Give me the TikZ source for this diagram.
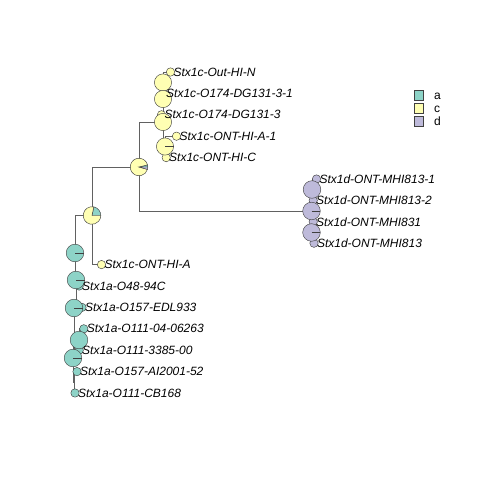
\documentclass[tikz,border=0pt]{standalone}
\usepackage{fontspec}
\setmainfont{Liberation Sans}
\definecolor{ca}{HTML}{8DD3C7}
\definecolor{cc}{HTML}{FFFFB3}
\definecolor{cd}{HTML}{BEBADA}
\newcommand{\pieone}[3]{\filldraw[fill=#2, pieborder] (#1) circle[radius=#3pt];}
\newcommand{\pieline}[2]{\draw[pieborder] (#1) -- ++(0:#2pt);}
\newcommand{\pieslice}[5]{\filldraw[fill=#2, pieborder] (#1) -- ++(#3:#5pt) arc[start angle=#3, end angle=#4, radius=#5pt] -- cycle;}
\begin{document}
\begin{tikzpicture}[x=1pt,y=-1pt,
  edge/.style={draw=black!62, line width=0.75pt},
  lab/.style={anchor=west, inner sep=0pt, font=\fontsize{12}{14}\selectfont\itshape},
  pieborder/.style={draw=black!75, line width=0.45pt},
  keybox/.style={draw=black!75, line width=0.5pt, minimum size=9.5pt, inner sep=0pt},
  keytext/.style={anchor=base west, inner sep=0pt, font=\fontsize{12}{14}\selectfont}
]
\useasboundingbox[fill=white] (0,0) rectangle (480,480);
% internal nodes
\coordinate (R)  at (75,253);
\coordinate (N1) at (92,215.5);
\coordinate (N2) at (139,167);
\coordinate (C0) at (163,122);
\coordinate (U2) at (163,99);
\coordinate (U1) at (163,82.5);
\coordinate (L)  at (165,146.5);
\coordinate (D0) at (311.5,211);
\coordinate (D1) at (312,189.5);
\coordinate (D3) at (311.5,232.5);
\coordinate (A1) at (76,280);
\coordinate (A2) at (74,308);
\coordinate (A3) at (79,340);
\coordinate (A4) at (73,358);
\coordinate (B)  at (74,382.3);
% tips
\coordinate (t1)  at (170.5,72);
\coordinate (t2)  at (163.2,93.4);
\coordinate (t3)  at (161.5,114.8);
\coordinate (t4)  at (176.5,136.2);
\coordinate (t5)  at (166.2,157.6);
\coordinate (t6)  at (316.5,179);
\coordinate (t7)  at (313.2,200.4);
\coordinate (t8)  at (313.2,221.8);
\coordinate (t9)  at (314,243.2);
\coordinate (t10) at (101.5,264.6);
\coordinate (t11) at (79.2,286);
\coordinate (t12) at (82,307.4);
\coordinate (t13) at (83.8,328.8);
\coordinate (t14) at (79.2,350.2);
\coordinate (t15) at (77,371.6);
\coordinate (t16) at (75,393);
% edges
\draw[edge] (R) |- (N1);
\draw[edge] (R) |- (A1);
\draw[edge] (N1) |- (N2);
\draw[edge] (N1) |- (t10);
\draw[edge] (N2) |- (C0);
\draw[edge] (N2) |- (D0);
\draw[edge] (C0) |- (U2);
\draw[edge] (C0) |- (L);
\draw[edge] (U2) |- (U1);
\draw[edge] (U2) |- (t3);
\draw[edge] (U1) |- (t1);
\draw[edge] (U1) |- (t2);
\draw[edge] (L) |- (t4);
\draw[edge] (L) |- (t5);
\draw[edge] (D0) |- (D1);
\draw[edge] (D0) |- (D3);
\draw[edge] (D1) |- (t6);
\draw[edge] (D1) |- (t7);
\draw[edge] (D3) |- (t8);
\draw[edge] (D3) |- (t9);
\draw[edge] (A1) |- (t11);
\draw[edge] (A1) |- (A2);
\draw[edge] (A2) |- (t12);
\draw[edge] (A2) |- (A4);
\draw[edge] (A4) |- (A3);
\draw[edge] (A3) |- (t13);
\draw[edge] (A3) |- (t14);
\draw[edge] (A4) |- (B);
\draw[edge] (B) |- (t15);
\draw[edge] (B) |- (t16);
% tip circles
\foreach \t in {t1,t2,t3,t4,t5,t10} {\pieone{\t}{cc}{4.2}}
\foreach \t in {t6,t7,t8,t9} {\pieone{\t}{cd}{4.2}}
\foreach \t in {t11,t12,t13,t14,t15,t16} {\pieone{\t}{ca}{4.2}}
% node pies
\pieone{R}{ca}{8.8}\pieline{R}{8.8}
\pieslice{N1}{ca}{0}{78}{8.8}\pieslice{N1}{cc}{78}{360}{8.8}
\pieslice{N2}{ca}{0}{14}{8.8}\pieslice{N2}{cc}{14}{344}{8.8}\pieslice{N2}{cd}{344}{360}{8.8}
\pieone{U1}{cc}{8.6}
\pieone{U2}{cc}{8.6}
\pieone{C0}{cc}{8.6}
\pieone{L}{cc}{8.6}\pieline{L}{8.6}
\pieone{D1}{cd}{8.8}
\pieone{D0}{cd}{8.8}\pieline{D0}{8.8}
\pieone{D3}{cd}{8.8}\pieline{D3}{8.8}
\pieone{A1}{ca}{8.8}\pieline{A1}{8.8}
\pieone{A2}{ca}{8.8}\pieline{A2}{8.8}
\pieone{A3}{ca}{8.8}
\pieone{A4}{ca}{8.8}\pieline{A4}{8.8}
% labels
\node[lab] (l1)  at ([xshift=2.8pt]t1)  {Stx1c-Out-HI-N};
\node[lab] (l2)  at ([xshift=2.8pt]t2)  {Stx1c-O174-DG131-3-1};
\node[lab] (l3)  at ([xshift=2.8pt]t3)  {Stx1c-O174-DG131-3};
\node[lab] (l4)  at ([xshift=2.8pt]t4)  {Stx1c-ONT-HI-A-1};
\node[lab] (l5)  at ([xshift=2.8pt]t5)  {Stx1c-ONT-HI-C};
\node[lab] (l6)  at ([xshift=2.8pt]t6)  {Stx1d-ONT-MHI813-1};
\node[lab] (l7)  at ([xshift=2.8pt]t7)  {Stx1d-ONT-MHI813-2};
\node[lab] (l8)  at ([xshift=2.8pt]t8)  {Stx1d-ONT-MHI831};
\node[lab] (l9)  at ([xshift=2.8pt]t9)  {Stx1d-ONT-MHI813};
\node[lab] (l10) at ([xshift=2.8pt]t10) {Stx1c-ONT-HI-A};
\node[lab] (l11) at ([xshift=2.8pt]t11) {Stx1a-O48-94C};
\node[lab] (l12) at ([xshift=2.8pt]t12) {Stx1a-O157-EDL933};
\node[lab] (l13) at ([xshift=2.8pt]t13) {Stx1a-O111-04-06263};
\node[lab] (l14) at ([xshift=2.8pt]t14) {Stx1a-O111-3385-00};
\node[lab] (l15) at ([xshift=2.8pt]t15) {Stx1a-O157-AI2001-52};
\node[lab] (l16) at ([xshift=2.8pt]t16) {Stx1a-O111-CB168};
% legend
\node[keybox, fill=ca] (ka) at (418.5,95) {};
\node[keybox, fill=cc] (kc) at (418.5,108) {};
\node[keybox, fill=cd] (kd) at (418.5,121) {};
\node[keytext] (ta) at (434,99.3) {a};
\node[keytext] (tc) at (434,112.3) {c};
\node[keytext] (td) at (434,125.3) {d};
\end{tikzpicture}
\end{document}
